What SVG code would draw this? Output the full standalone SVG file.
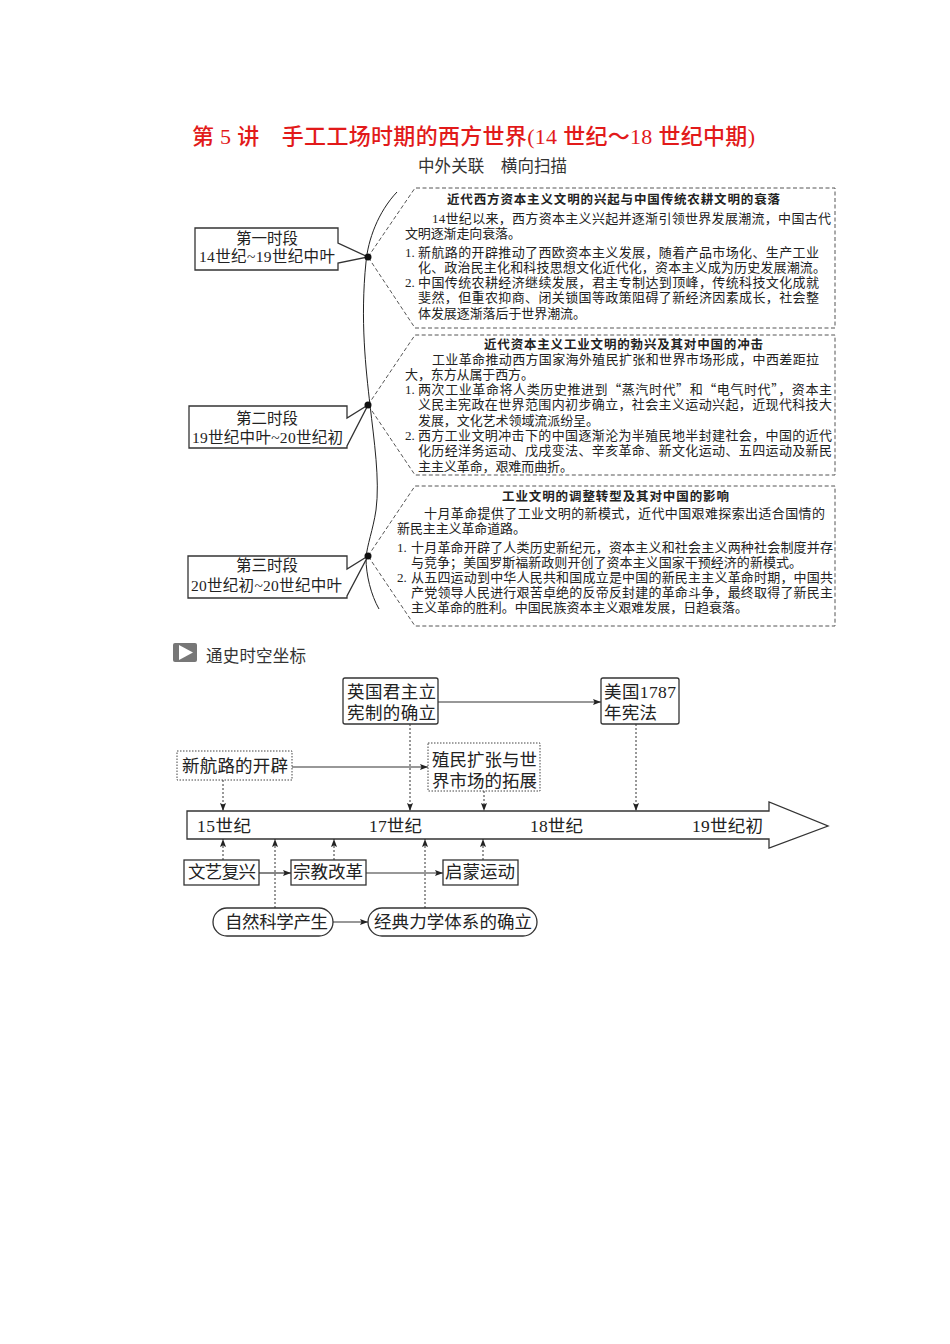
<svg xmlns="http://www.w3.org/2000/svg" width="950" height="1344" viewBox="0 0 950 1344">
<style>
text{font-family:"Liberation Serif","Noto Sans CJK SC",serif;fill:#222}
.t{font-size:13px}
.h{font-size:12.5px;font-weight:700}
.n{font-size:17.5px}
.p{font-size:15.5px}
.q{font-family:"Noto Sans CJK SC",sans-serif}
.b{fill:#fff;stroke:#333;stroke-width:1.3}
.d{fill:none;stroke:#555;stroke-width:1;stroke-dasharray:4 2.5}
.dot{fill:#fff;stroke:#444;stroke-width:1;stroke-dasharray:1.5 1.5}
.a{fill:none;stroke:#333;stroke-width:1.2;marker-end:url(#ar)}
.da{fill:none;stroke:#333;stroke-width:1;stroke-dasharray:2 2;marker-end:url(#ar)}
</style>
<defs>
<marker id="ar" markerUnits="userSpaceOnUse" markerWidth="9" markerHeight="7" refX="8" refY="3.5" orient="auto"><path d="M0,0.5L8,3.5L0,6.5L1.5,3.5Z" fill="#222"/></marker>
</defs>
<rect width="950" height="1344" fill="#fff"/>
<text id="title" x="192" y="144" textLength="563" style="font-size:22px;fill:#e21a1a;font-weight:500">第 5 讲　手工工场时期的西方世界(14 世纪～18 世纪中期)</text>
<text id="subtitle" x="418" y="172" textLength="149" style="font-size:16.5px;fill:#333">中外关联　横向扫描</text>

<g id="spine"><path d="M397,192C378,212 368,240 366,262C360,320 366,370 370,405C374,440 380,480 376,510C373,530 367,545 366,558C366,575 371,595 379,609" fill="none" stroke="#222" stroke-width="1"/></g>

<g id="panel1">
<path class="d" d="M368,257L415,188H835V328H415Z"/>
<text class="h" x="447" y="204" textLength="333">近代西方资本主义文明的兴起与中国传统农耕文明的衰落</text>
<text class="t" x="432" y="223" textLength="399">14世纪以来，西方资本主义兴起并逐渐引领世界发展潮流，中国古代</text>
<text class="t" x="405" y="238" textLength="116">文明逐渐走向衰落。</text>
<text class="t" x="405" y="257">1.</text><text class="t" x="418" y="257" textLength="401">新航路的开辟推动了西欧资本主义发展，随着产品市场化、生产工业</text>
<text class="t" x="418" y="272" textLength="408">化、政治民主化和科技思想文化近代化，资本主义成为历史发展潮流。</text>
<text class="t" x="405" y="287">2.</text><text class="t" x="418" y="287" textLength="401">中国传统农耕经济继续发展，君主专制达到顶峰，传统科技文化成就</text>
<text class="t" x="418" y="302" textLength="401">斐然，但重农抑商、闭关锁国等政策阻碍了新经济因素成长，社会整</text>
<text class="t" x="418" y="318" textLength="168">体发展逐渐落后于世界潮流。</text>
</g>
<g id="panel2">
<path class="d" d="M368,405L415,335H835V475H415Z"/>
<text class="h" x="484" y="349" textLength="279">近代资本主义工业文明的勃兴及其对中国的冲击</text>
<text class="t" x="432" y="364" textLength="387">工业革命推动西方国家海外殖民扩张和世界市场形成，中西差距拉</text>
<text class="t" x="405" y="379" textLength="129">大，东方从属于西方。</text>
<text class="t" x="405" y="394">1.</text><text class="t" x="418" y="394" textLength="414">两次工业革命将人类历史推进到<tspan class="q">“</tspan>蒸汽时代<tspan class="q">”</tspan>和<tspan class="q">“</tspan>电气时代<tspan class="q">”</tspan>，资本主</text>
<text class="t" x="418" y="409" textLength="414">义民主宪政在世界范围内初步确立，社会主义运动兴起，近现代科技大</text>
<text class="t" x="418" y="425" textLength="181">发展，文化艺术领域流派纷呈。</text>
<text class="t" x="405" y="440">2.</text><text class="t" x="418" y="440" textLength="414">西方工业文明冲击下的中国逐渐沦为半殖民地半封建社会，中国的近代</text>
<text class="t" x="418" y="455" textLength="414">化历经洋务运动、戊戌变法、辛亥革命、新文化运动、五四运动及新民</text>
<text class="t" x="418" y="471" textLength="155">主主义革命，艰难而曲折。</text>
</g>
<g id="panel3">
<path class="d" d="M368,556L415,486H835V626H415Z"/>
<text class="h" x="502" y="501" textLength="227">工业文明的调整转型及其对中国的影响</text>
<text class="t" x="424" y="518" textLength="401">十月革命提供了工业文明的新模式，近代中国艰难探索出适合国情的</text>
<text class="t" x="397" y="533" textLength="129">新民主主义革命道路。</text>
<text class="t" x="397" y="552">1.</text><text class="t" x="411" y="552" textLength="422">十月革命开辟了人类历史新纪元，资本主义和社会主义两种社会制度并存</text>
<text class="t" x="411" y="567" textLength="391">与竞争；美国罗斯福新政则开创了资本主义国家干预经济的新模式。</text>
<text class="t" x="397" y="582">2.</text><text class="t" x="411" y="582" textLength="422">从五四运动到中华人民共和国成立是中国的新民主主义革命时期，中国共</text>
<text class="t" x="411" y="597" textLength="422">产党领导人民进行艰苦卓绝的反帝反封建的革命斗争，最终取得了新民主</text>
<text class="t" x="411" y="612" textLength="337">主义革命的胜利。中国民族资本主义艰难发展，日趋衰落。</text>
</g>
<g id="period1">
<path class="b" d="M195,228H338V243L368,257L338,263V270H195Z"/>
<text class="p" x="236" y="244" textLength="62">第一时段</text>
<text class="p" x="199" y="262" textLength="136">14世纪~19世纪中叶</text>
</g>
<g id="period2">
<path class="b" d="M189,406H347V418L368,405L347,446V448H189Z"/>
<text class="p" x="236" y="424" textLength="62">第二时段</text>
<text class="p" x="192" y="443" textLength="151">19世纪中叶~20世纪初</text>
</g>
<g id="period3">
<path class="b" d="M188,556H347V569L368,556L347,596V598H188Z"/>
<text class="p" x="236" y="571" textLength="62">第三时段</text>
<text class="p" x="191" y="591" textLength="151">20世纪初~20世纪中叶</text>
</g>
<g id="dots" fill="#111"><circle cx="368" cy="257" r="3.5"/><circle cx="368" cy="405" r="3.5"/><circle cx="368" cy="556" r="3.5"/></g>

<g id="icon"><rect x="173" y="643" width="24" height="19" rx="2" fill="#777"/><path d="M179,645V660L193,652.5Z" fill="#fff"/></g>
<text id="heading2" x="206" y="662" textLength="100" style="font-size:16.5px;fill:#333">通史时空坐标</text>

<g id="timeline">
<path class="b" d="M187,811H769V802L828,826L769,848V839H187Z"/>
<text class="n" x="197" y="832" textLength="54">15世纪</text>
<text class="n" x="369" y="832" textLength="53">17世纪</text>
<text class="n" x="530" y="832" textLength="53">18世纪</text>
<text class="n" x="692" y="832" textLength="71">19世纪初</text>
</g>
<g id="connectors">
<path class="a" d="M438,702H601"/>
<path class="a" d="M292,767H428"/>
<path class="a" d="M259,873H291"/>
<path class="a" d="M366,873H443"/>
<path class="a" d="M333,922H368"/>
<path class="da" d="M223,780V811"/>
<path class="da" d="M410,724V811"/>
<path class="da" d="M484,791V811"/>
<path class="da" d="M636,724V811"/>
<path class="da" d="M223,860V839"/>
<path class="da" d="M334,860V839"/>
<path class="da" d="M483,860V839"/>
<path class="da" d="M275,908V839"/>
<path class="da" d="M425,908V839"/>
</g>
<g id="n-britain"><rect class="b" x="343" y="678" width="95" height="46" rx="2"/><text class="n" x="347" y="698" textLength="89">英国君主立</text><text class="n" x="347" y="719" textLength="89">宪制的确立</text></g>
<g id="n-usa"><rect class="b" x="601" y="678" width="78" height="46" rx="2"/><text class="n" x="604" y="698" textLength="72">美国1787</text><text class="n" x="604" y="719" textLength="53">年宪法</text></g>
<g id="n-route"><rect class="dot" x="177" y="751" width="115" height="29"/><text class="n" x="182" y="772" textLength="106">新航路的开辟</text></g>
<g id="n-colonial"><rect class="dot" x="428" y="743" width="112" height="48"/><text class="n" x="432" y="766" textLength="105">殖民扩张与世</text><text class="n" x="432" y="787" textLength="105">界市场的拓展</text></g>
<g id="n-renaissance"><rect class="b" x="184" y="860" width="75" height="25"/><text class="n" x="188" y="878" textLength="68">文艺复兴</text></g>
<g id="n-reformation"><rect class="b" x="291" y="860" width="75" height="25"/><text class="n" x="293" y="878" textLength="70">宗教改革</text></g>
<g id="n-enlightenment"><rect class="b" x="443" y="860" width="75" height="25"/><text class="n" x="445" y="878" textLength="70">启蒙运动</text></g>
<g id="n-science"><rect class="b" x="213" y="908" width="120" height="28" rx="14"/><text class="n" x="225" y="928" textLength="103">自然科学产生</text></g>
<g id="n-mechanics"><rect class="b" x="368" y="908" width="169" height="28" rx="14"/><text class="n" x="374" y="928" textLength="158">经典力学体系的确立</text></g>
</svg>
